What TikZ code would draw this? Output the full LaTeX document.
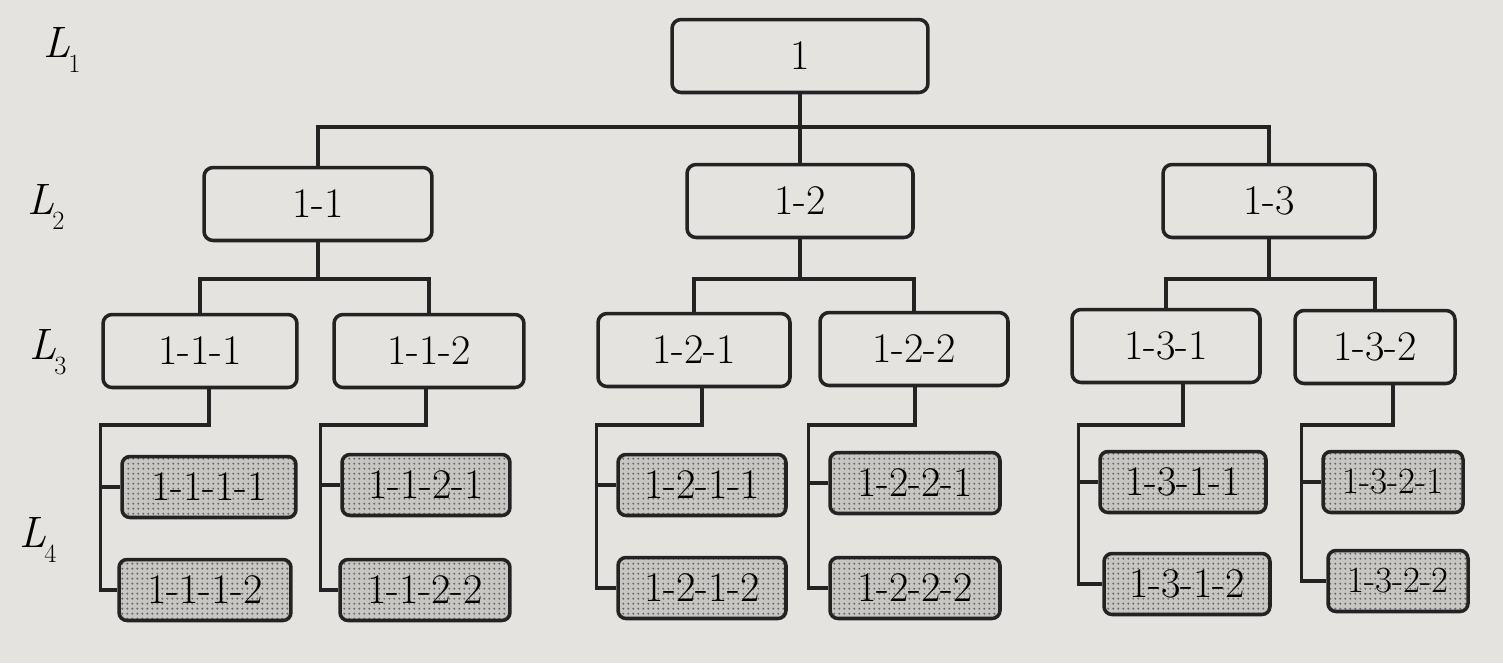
\documentclass[tikz,border=0pt]{standalone}
\usepackage{fontspec}
\usetikzlibrary{patterns}
\definecolor{paper}{RGB}{229,227,224}
\definecolor{leafbg}{RGB}{200,198,195}
\definecolor{ink}{RGB}{35,35,35}
\pgfdeclarepatternformonly{bigdots}{\pgfpointorigin}{\pgfpoint{3pt}{3pt}}{\pgfpoint{3pt}{3pt}}{%
  \pgfpathcircle{\pgfpoint{1.5pt}{1.5pt}}{0.7pt}\pgfusepath{fill}}
\newcommand{\lvl}[1]{{\itshape L}\kern-0.05em\raisebox{-0.35em}{\fontsize{15}{15}\selectfont #1}}
\tikzset{
  box/.style={draw=ink, line width=2pt, rounded corners=0.18cm, fill=paper,
    minimum height=1.46cm, inner sep=0pt, font=\fontsize{24}{28}\selectfont},
  leaf/.style={draw=ink, line width=2pt, rounded corners=0.16cm, preaction={fill=leafbg},
    pattern=bigdots, pattern color=black!60, minimum height=1.22cm, inner sep=0pt,
    font=\fontsize{24}{28}\selectfont},
  conn/.style={draw=ink, line width=2pt},
  lab/.style={font=\fontsize{25}{28}\selectfont, inner sep=0pt}
}
\begin{document}
\begin{tikzpicture}[x=0.02cm,y=-0.02cm]
\fill[paper] (0,0) rectangle (1503,663);
\useasboundingbox (0,0) rectangle (1503,663);

% level labels
\node[lab] (L1) at (62,50) {\lvl{1}};
\node[lab] (L2) at (46,207) {\lvl{2}};
\node[lab] (L3) at (48,352) {\lvl{3}};
\node[lab] (L4) at (38,540) {\lvl{4}};

% level 1 and 2
\node[box, minimum width=5.12cm] (n1) at (800,56) {1};
\node[box, minimum width=4.56cm] (n11) at (318,204) {1-1};
\node[box, minimum width=4.52cm] (n12) at (800,201) {1-2};
\node[box, minimum width=4.24cm] (n13) at (1269,201) {1-3};

% level 3
\node[box, minimum width=3.88cm] (n111) at (200,351) {1-1-1};
\node[box, minimum width=3.80cm] (n112) at (429,351) {1-1-2};
\node[box, minimum width=3.84cm] (n121) at (694,350) {1-2-1};
\node[box, minimum width=3.76cm] (n122) at (914,349) {1-2-2};
\node[box, minimum width=3.76cm] (n131) at (1166,346) {1-3-1};
\node[box, minimum width=3.20cm] (n132) at (1375,347) {1-3-2};

% level 4
\node[leaf, minimum width=3.48cm] (n1111) at (209,487) {1-1-1-1};
\node[leaf, minimum width=3.44cm] (n1112) at (205,590) {1-1-1-2};
\node[leaf, minimum width=3.36cm] (n1121) at (426,485) {1-1-2-1};
\node[leaf, minimum width=3.40cm] (n1122) at (425,590) {1-1-2-2};
\node[leaf, minimum width=3.36cm] (n1211) at (702,485) {1-2-1-1};
\node[leaf, minimum width=3.36cm] (n1212) at (702,588) {1-2-1-2};
\node[leaf, minimum width=3.40cm] (n1221) at (915,483) {1-2-2-1};
\node[leaf, minimum width=3.40cm] (n1222) at (915,588) {1-2-2-2};
\node[leaf, minimum width=3.32cm] (n1311) at (1183,482) {1-3-1-1};
\node[leaf, minimum width=3.32cm] (n1312) at (1187,584) {1-3-1-2};
\node[leaf, minimum width=2.80cm, font=\fontsize{21}{24}\selectfont] (n1321) at (1393,482) {1-3-2-1};
\node[leaf, minimum width=2.80cm, font=\fontsize{21}{24}\selectfont] (n1322) at (1398,581) {1-3-2-2};

% bus levels
\coordinate (b1) at (0,127);
\coordinate (b2) at (0,279);
\coordinate (b3) at (0,425);

% level 1 -> 2
\draw[conn] (n1.south) -- (n12.north);
\draw[conn] (n11.north) |- (n13.north |- b1) -- (n13.north);

% level 2 -> 3
\foreach \p/\a/\b in {n11/n111/n112, n12/n121/n122, n13/n131/n132}{
  \draw[conn] (\p.south) -- (\p.south |- b2);
  \draw[conn] (\a.north) |- (\b.north |- b2) -- (\b.north);
}

% level 3 -> 4
\foreach \p/\c/\d in {n111/n1111/n1112, n112/n1121/n1122, n121/n1211/n1212,
                      n122/n1221/n1222, n131/n1311/n1312, n132/n1321/n1322}{
  \draw[conn] (\p.south -| \c.north) |- ([xshift=-0.4cm]\c.west |- b3) |- (\d.west);
  \draw[conn] ([xshift=-0.4cm]\c.west) -- (\c.west);
}
\end{tikzpicture}
\end{document}
